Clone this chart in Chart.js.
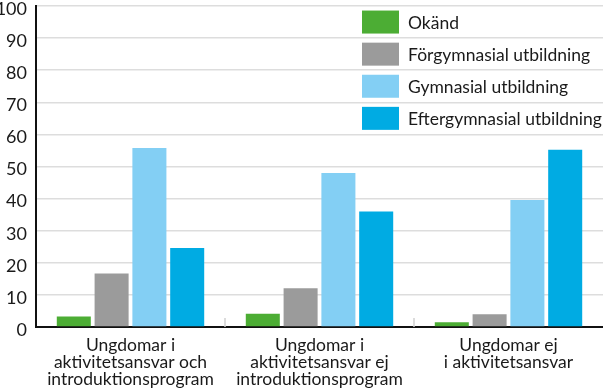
<!DOCTYPE html>
<html>
<head>
<meta charset="utf-8">
<script src="https://cdn.jsdelivr.net/npm/chart.js@4/dist/chart.umd.min.js"></script>
<style>
  html, body { margin: 0; padding: 0; background: #fff; }
  #wrap { width: 603px; height: 391px; }
</style>
</head>
<body>
<div id="wrap"><canvas id="chart"></canvas></div>
<script>
// data
const categories = [
  ["Ungdomar i", "aktivitetsansvar och", "introduktionsprogram"],
  ["Ungdomar i", "aktivitetsansvar ej", "introduktionsprogram"],
  ["Ungdomar ej", "i aktivitetsansvar"],
];
const seriesNames = ["Okänd", "Förgymnasial utbildning", "Gymnasial utbildning", "Eftergymnasial utbildning"];
const okand = [3.3, 4.1, 1.5];
const forgymnasial = [16.7, 12.1, 4.0];
const gymnasial = [55.8, 48.0, 39.6];
const eftergymnasial = [24.6, 36.0, 55.2];
const yTicks = [0, 10, 20, 30, 40, 50, 60, 70, 80, 90, 100];

const colors = ["#4cad34", "#9b9b9b", "#83cff4", "#00abe3"];
const FONT = "Lato";

// legend drawn inside the plot, one row between each pair of gridlines
const boxLegend = {
  id: "boxLegend",
  afterDatasetsDraw(chart) {
    const ctx = chart.ctx;
    const y = chart.scales.y;
    ctx.save();
    ctx.font = "17.5px " + FONT;
    ctx.textBaseline = "middle";
    chart.data.datasets.forEach((ds, i) => {
      const top = y.getPixelForValue(100 - 10 * i);
      const bot = y.getPixelForValue(90 - 10 * i);
      const cy = (top + bot) / 2;
      ctx.fillStyle = ds.backgroundColor;
      ctx.fillRect(362, cy - 11.5, 37, 23);
      ctx.fillStyle = "#1a1a1a";
      ctx.fillText(ds.label, 408, cy + 1);
    });
    ctx.restore();
  },
};

// short tick marks pointing up between the groups
const innerTicks = {
  id: "innerTicks",
  afterDraw(chart) {
    const ctx = chart.ctx;
    const x = chart.scales.x;
    const bottom = chart.chartArea.bottom;
    ctx.save();
    ctx.strokeStyle = "#d0d0d0";
    ctx.lineWidth = 1.5;
    for (let i = 1; i < categories.length; i++) {
      const px = (x.getPixelForValue(i - 1) + x.getPixelForValue(i)) / 2;
      ctx.beginPath();
      ctx.moveTo(px, bottom - 9);
      ctx.lineTo(px, bottom);
      ctx.stroke();
    }
    ctx.restore();
  },
};

const datasets = [okand, forgymnasial, gymnasial, eftergymnasial].map((vals, i) => ({
  label: seriesNames[i],
  data: vals,
  backgroundColor: colors[i],
  borderWidth: 0,
  categoryPercentage: 0.8,
  barPercentage: 0.9,
}));

new Chart(document.getElementById("chart"), {
  type: "bar",
  data: { labels: categories, datasets },
  options: {
    responsive: true,
    maintainAspectRatio: false,
    animation: false,
    layout: { padding: 0 },
    plugins: {
      legend: { display: false },
      tooltip: { enabled: false },
    },
    scales: {
      x: {
        grid: { display: false },
        border: { color: "#111", width: 2 },
        ticks: {
          color: "#1a1a1a",
          padding: 2,
          maxRotation: 0,
          font: { family: FONT, size: 17.5, lineHeight: 0.96 },
        },
        afterFit(s) { s.height = 64; },
      },
      y: {
        min: 0,
        max: 100,
        afterBuildTicks(s) { s.ticks = yTicks.map((v) => ({ value: v })); },
        grid: { color: "#dddddd", lineWidth: 1.5, drawTicks: false },
        border: { color: "#111", width: 2 },
        ticks: {
          color: "#1a1a1a",
          padding: 9,
          labelOffset: 3,
          font: { family: FONT, size: 18 },
        },
        afterFit(s) {
          s.width = 36;
          s.paddingTop = 6;
          s.paddingBottom = 0;
        },
      },
    },
  },
  plugins: [boxLegend, innerTicks],
});
</script>
</body>
</html>
